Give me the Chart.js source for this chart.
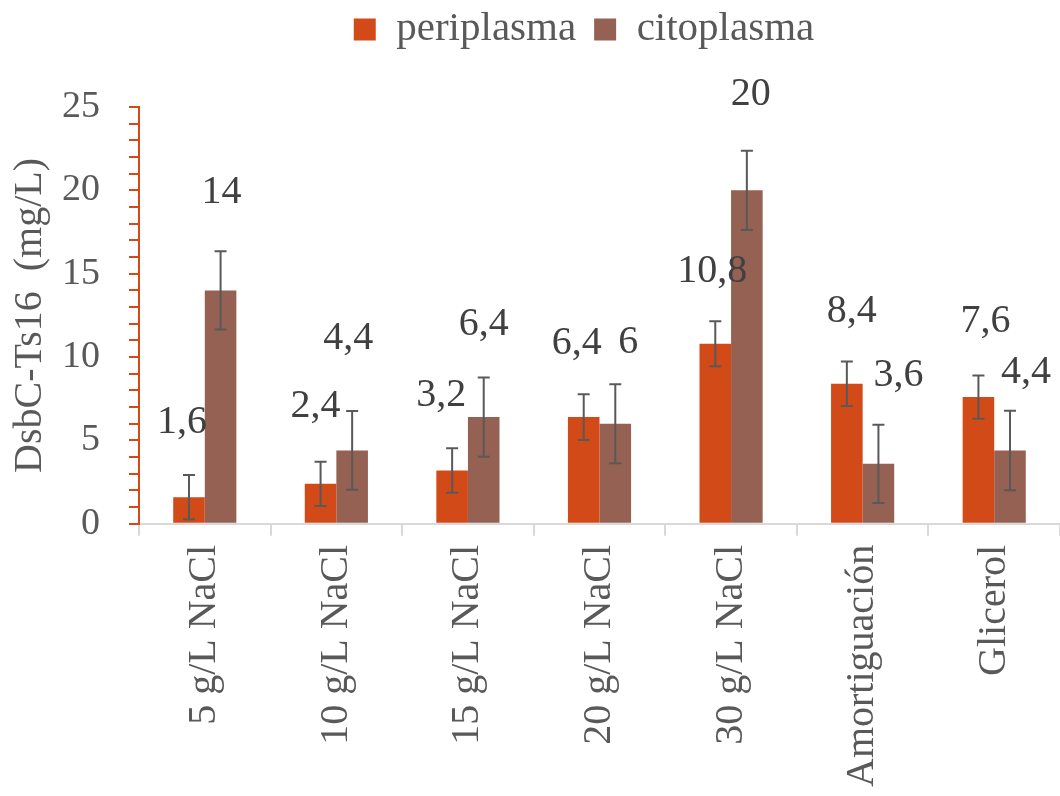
<!DOCTYPE html>
<html>
<head>
<meta charset="utf-8">
<script src="https://cdn.jsdelivr.net/npm/chart.js@4.4.1/dist/chart.umd.min.js"></script>
<style>
    html, body { margin: 0; padding: 0; background: #ffffff; }
    #wrap { width: 1060px; height: 796px; }
</style>
</head>
<body>
<div id="wrap"><canvas id="chart" width="1060" height="796"></canvas></div>
<script>
// Data
const categories = ['5 g/L NaCl', '10 g/L NaCl', '15 g/L NaCl', '20 g/L NaCl', '30 g/L NaCl', 'Amortiguación', 'Glicerol'];
const periplasma = [1.6, 2.4, 3.2, 6.4, 10.8, 8.4, 7.6];
const citoplasma = [14, 4.4, 6.4, 6, 20, 3.6, 4.4];
const periplasmaErr = [1.33, 1.33, 1.33, 1.37, 1.35, 1.34, 1.3];
const citoplasmaErr = [2.35, 2.36, 2.37, 2.37, 2.38, 2.35, 2.38];
const yTicks = [0, 5, 10, 15, 20, 25];

// Label nudges (px) – the labels were moved by hand in the original
const labelNudge = [
    { dx: [-7, -5, -11, -7, -3, 5, 7], dy: [-75, -77, -75, -74, -72, -72, -76] },
    { dx: [1, -4, 0, 13, 4, 20, 16], dy: [-98, -112, -93, -81, -96, -88, -78] }
];
const errors = [periplasmaErr, citoplasmaErr];

const FONT = 'Liberation Serif';
const GREY = '#595959';
const TOP_PAD = 38;

// Error bars and value labels
const barExtras = {
    id: 'barExtras',
    afterDatasetsDraw(chart) {
        const ctx = chart.ctx;
        const y = chart.scales.y;
        ctx.save();
        chart.data.datasets.forEach((ds, di) => {
            const meta = chart.getDatasetMeta(di);
            meta.data.forEach((bar, i) => {
                const v = ds.data[i];
                const e = errors[di][i];
                const top = y.getPixelForValue(v + e);
                const bot = y.getPixelForValue(v - e);
                ctx.strokeStyle = GREY;
                ctx.lineWidth = 2;
                ctx.beginPath();
                ctx.moveTo(bar.x, top);
                ctx.lineTo(bar.x, bot);
                ctx.moveTo(bar.x - 6, top);
                ctx.lineTo(bar.x + 6, top);
                ctx.moveTo(bar.x - 6, bot);
                ctx.lineTo(bar.x + 6, bot);
                ctx.stroke();
            });
        });
        ctx.font = '40px "Liberation Serif"';
        ctx.fillStyle = '#404040';
        ctx.textAlign = 'center';
        ctx.textBaseline = 'middle';
        chart.data.datasets.forEach((ds, di) => {
            const meta = chart.getDatasetMeta(di);
            meta.data.forEach((bar, i) => {
                const txt = String(ds.data[i]).replace('.', ',');
                ctx.fillText(txt, bar.x + labelNudge[di].dx[i], bar.y + labelNudge[di].dy[i]);
            });
        });
        ctx.restore();
    }
};

// Move the legend up and a little to the right, as in the original
const legendShift = {
    id: 'legendShift',
    afterLayout(chart) {
        const lg = chart.legend;
        lg.left += 54;
        lg.right += 54;
        lg.top -= TOP_PAD + 9;
        lg.bottom -= TOP_PAD + 9;
    }
};

Chart.defaults.font.family = FONT;

new Chart(document.getElementById('chart'), {
    type: 'bar',
    data: {
        labels: categories,
        datasets: [
            { label: 'periplasma', data: periplasma, backgroundColor: '#D24A18' },
            { label: 'citoplasma', data: citoplasma, backgroundColor: '#946152' }
        ]
    },
    options: {
        responsive: false,
        animation: false,
        devicePixelRatio: 1,
        layout: { padding: { top: TOP_PAD, left: 0, right: 0, bottom: 0 } },
        datasets: { bar: { barPercentage: 1, categoryPercentage: 0.48 } },
        plugins: {
            legend: {
                position: 'top',
                labels: {
                    boxWidth: 22,
                    boxHeight: 22,
                    padding: 18,
                    color: GREY,
                    font: { family: FONT, size: 41 }
                }
            },
            tooltip: { enabled: false }
        },
        scales: {
            x: {
                grid: { drawOnChartArea: false, offset: true, tickLength: 12, color: '#d9d9d9', lineWidth: 2 },
                border: { color: '#d9d9d9', width: 2 },
                ticks: {
                    color: GREY,
                    font: { family: FONT, size: 40 },
                    minRotation: 90,
                    maxRotation: 90,
                    padding: 9,
                    autoSkip: false
                }
            },
            y: {
                min: 0,
                max: 25,
                afterFit: s => { s.width = 139; },
                grid: { drawOnChartArea: false, tickLength: 10, color: '#D24A18', lineWidth: 2 },
                border: { color: '#D24A18', width: 2 },
                ticks: {
                    stepSize: 1,
                    autoSkip: false,
                    color: GREY,
                    padding: 29,
                    font: { family: FONT, size: 38 },
                    callback: v => yTicks.includes(v) ? v : ''
                },
                title: {
                    display: true,
                    text: 'DsbC-Ts16  (mg/L)',
                    color: GREY,
                    font: { family: FONT, size: 40 },
                    padding: { top: 6, bottom: 0 }
                }
            }
        }
    },
    plugins: [barExtras, legendShift]
});
</script>
</body>
</html>
